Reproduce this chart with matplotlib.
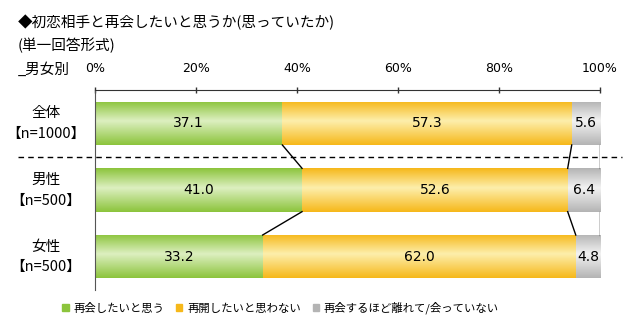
import numpy as np
import matplotlib
matplotlib.use("Agg")
import matplotlib.pyplot as plt
from matplotlib.colors import LinearSegmentedColormap
from matplotlib.patches import Patch
import matplotlib.transforms as mtransforms

plt.rcParams['font.family'] = ['Noto Sans CJK JP', 'DejaVu Sans']

groups = ['全体', '男性', '女性']
sizes = ['【n=1000】', '【n=500】', '【n=500】']
series = ['再会したいと思う', '再開したいと思わない', '再会するほど離れて/会っていない']
want = [37.1, 41.0, 33.2]
not_want = [57.3, 52.6, 62.0]
apart = [5.6, 6.4, 4.8]
ticks = [0, 20, 40, 60, 80, 100]

# edge colour, centre colour for the gradient
colors = [('#8cc43c', '#dcefbf'), ('#f6b81a', '#fdeeaa'), ('#b4b4b4', '#f2f2f2')]

fig = plt.figure(figsize=(6.4, 3.28), dpi=100)
ax = fig.add_axes([95/640, 1 - 290/328, 505/640, 200/328])

y = np.arange(len(groups))
h = 0.65
values = [want, not_want, apart]
left = np.zeros(len(groups))
grad = np.concatenate([np.linspace(0, 1, 45), np.linspace(1, 0, 55)]).reshape(-1, 1)

for vals, (c_edge, c_mid) in zip(values, colors):
    cmap = LinearSegmentedColormap.from_list('g', [c_edge, c_mid])
    bars = ax.barh(y, vals, left=left, height=h, color=c_edge, linewidth=0)
    for b, v, l, yi in zip(bars, vals, left, y):
        im = ax.imshow(grad, cmap=cmap, aspect='auto', vmin=0, vmax=1,
                       extent=[l, l + v, yi + h/2, yi - h/2], zorder=2)
        im.set_clip_path(b)
        ax.text(l + v/2, yi, f'{v:.1f}', ha='center', va='center',
                fontsize=10, family='DejaVu Sans', zorder=3)
    left = left + np.array(vals)

# connector lines between bars
cum1 = np.array(want)
cum2 = cum1 + np.array(not_want)
for i in range(len(groups) - 1):
    for c in (cum1, cum2, np.full(len(groups), 100.0)):
        ax.plot([c[i], c[i+1]], [i + h/2, i + 1 - h/2], color='black', lw=1, zorder=4)

ax.set_xlim(0, 100)
ax.set_ylim(2.5, -0.5)

# dashed separator below 全体
trans = mtransforms.blended_transform_factory(ax.transAxes, ax.transData)
ax.plot([-0.152, 1.044], [0.5, 0.5], transform=trans, color='black', lw=1,
        ls=(0, (4, 3)), clip_on=False, zorder=5)

ax.xaxis.tick_top()
ax.set_xticks(ticks)
ax.set_xticklabels([f'{t}%' for t in ticks], fontsize=9, family='DejaVu Sans')
ax.tick_params(axis='x', direction='inout', length=5, width=1, pad=8, color='#333333')
ax.set_yticks([])
for s in ['right', 'bottom']:
    ax.spines[s].set_visible(False)
ax.spines['top'].set_color('#333333')
ax.spines['left'].set_color('#555555')

for yi, g, n in zip(y, groups, sizes):
    ax.text(-0.097, yi - 0.15, g, transform=trans, ha='center', va='center', fontsize=10.5)
    ax.text(-0.097, yi + 0.16, n, transform=trans, ha='center', va='center', fontsize=10.5)

fig.text(18/640, 1 - 22/328, '◆初恋相手と再会したいと思うか(思っていたか)', fontsize=10.5, va='center')
fig.text(18/640, 1 - 45/328, '(単一回答形式)', fontsize=10.5, va='center')
fig.text(18/640, 1 - 70/328, '_男女別', fontsize=10.5, va='center')

handles = [Patch(color=c[0]) for c in colors]
fig.legend(handles, series, loc='center left', bbox_to_anchor=(52/640, 1 - 308/328), ncol=3,
           frameon=False, fontsize=8.2, handlelength=0.55, handleheight=0.55,
           handletextpad=0.45, columnspacing=1.0)

fig.savefig('out.png', dpi=100)
